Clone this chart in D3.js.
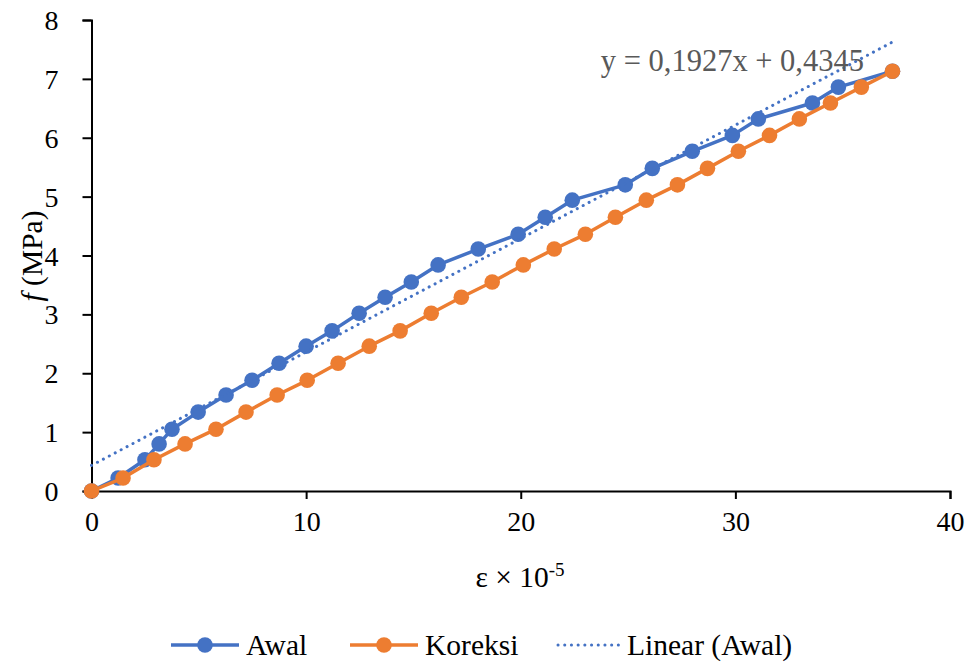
<!DOCTYPE html>
<html>
<head>
<meta charset="utf-8">
<script src="https://cdn.jsdelivr.net/npm/d3@7"></script>
<style>
  html, body { margin: 0; padding: 0; background: #fff; }
  svg { display: block; }
</style>
</head>
<body>
<svg id="chart" width="971" height="666" font-family="'Liberation Serif', 'Times New Roman', serif"></svg>
<script>
// Strain (×10^-5) and stress f (MPa)
const awalStrain = [0, 1.24, 2.49, 3.15, 3.75, 4.97, 6.27, 7.48, 8.74, 10.0, 11.21, 12.47, 13.68, 14.9,
  16.15, 18.02, 19.88, 21.14, 22.4, 24.87, 26.13, 27.99, 29.86, 31.07, 33.59, 34.8, 37.32];
const koreksiStrain = [0, 1.47, 2.91, 4.36, 5.80, 7.20, 8.65, 10.05, 11.49, 12.94, 14.38, 15.83, 17.23, 18.67,
  20.12, 21.56, 23.01, 24.41, 25.85, 27.30, 28.70, 30.14, 31.59, 32.98, 34.43, 35.87, 37.32];
const stress = [0, 0.22, 0.53, 0.80, 1.05, 1.34, 1.63, 1.88, 2.17, 2.46, 2.72, 3.02, 3.29, 3.55,
  3.84, 4.11, 4.36, 4.65, 4.94, 5.20, 5.48, 5.77, 6.04, 6.32, 6.59, 6.86, 7.13];

// Linear trendline fitted to "Awal"
const trendSlope = 0.1927;
const trendIntercept = 0.4345;

const xTicks = [0, 10, 20, 30, 40];
const yTicks = [0, 1, 2, 3, 4, 5, 6, 7, 8];

const seriesNames = ["Awal", "Koreksi", "Linear (Awal)"];
const BLUE = "#4472C4", ORANGE = "#ED7D31";
const SERIF = "'Liberation Serif', 'Times New Roman', serif";

const svg = d3.select("#chart");
const x = d3.scaleLinear().domain([0, 40]).range([91.5, 950]);
const y = d3.scaleLinear().domain([0, 8]).range([491, 20]);

const TICK_FS = 28, TEXT_FS = 29.5;

// Axes
const xAxis = svg.append("g").attr("transform", `translate(0,${y(0)})`)
  .call(d3.axisBottom(x).tickValues(xTicks).tickSize(8).tickPadding(12).tickFormat(d3.format("d")));
const yAxis = svg.append("g").attr("transform", `translate(${x(0)},0)`)
  .call(d3.axisLeft(y).tickValues(yTicks).tickSize(9).tickPadding(24).tickFormat(d3.format("d")));
[xAxis, yAxis].forEach(g => {
  g.attr("font-family", SERIF).attr("font-size", TICK_FS);
  g.select(".domain").attr("stroke", "#000").attr("stroke-width", 2);
  g.selectAll(".tick line").attr("stroke", "#000").attr("stroke-width", 2);
  g.selectAll(".tick text").attr("fill", "#000");
});
yAxis.selectAll(".tick text").attr("dy", "0.34em");

const line = d3.line().x(d => x(d[0])).y(d => y(d[1]));
const awal = awalStrain.map((v, i) => [v, stress[i]]);
const koreksi = koreksiStrain.map((v, i) => [v, stress[i]]);

// Awal series
svg.append("path").datum(awal).attr("d", line).attr("fill", "none")
  .attr("stroke", BLUE).attr("stroke-width", 3.5).attr("stroke-linejoin", "round");
svg.append("g").selectAll("circle").data(awal).join("circle")
  .attr("cx", d => x(d[0])).attr("cy", d => y(d[1])).attr("r", 7.8).attr("fill", BLUE);

// Trendline over the range of Awal
const xMax = d3.max(awalStrain);
const trend = [[0, trendIntercept], [xMax, trendSlope * xMax + trendIntercept]];
svg.append("path").datum(trend).attr("d", line).attr("fill", "none")
  .attr("stroke", BLUE).attr("stroke-width", 3).attr("stroke-linecap", "round")
  .attr("stroke-dasharray", "0.1,6.6");

// Koreksi series
svg.append("path").datum(koreksi).attr("d", line).attr("fill", "none")
  .attr("stroke", ORANGE).attr("stroke-width", 3.5).attr("stroke-linejoin", "round");
svg.append("g").selectAll("circle").data(koreksi).join("circle")
  .attr("cx", d => x(d[0])).attr("cy", d => y(d[1])).attr("r", 7.8).attr("fill", ORANGE);

// Trendline equation
const fmt = v => String(v).replace(".", ",");
svg.append("text").attr("x", 864).attr("y", 71).attr("text-anchor", "end")
  .attr("fill", "#595959").attr("font-size", 30.5)
  .text(`y = ${fmt(trendSlope)}x + ${fmt(trendIntercept)}`);

// Axis titles
const xt = svg.append("text").attr("x", 520).attr("y", 587).attr("text-anchor", "middle")
  .attr("fill", "#000").attr("font-size", TEXT_FS);
xt.append("tspan").text("ε × 10");
xt.append("tspan").attr("dy", -11).attr("font-size", 19).text("-5");

const yt = svg.append("text").attr("transform", `translate(42,256) rotate(-90)`)
  .attr("text-anchor", "middle").attr("fill", "#000").attr("font-size", TEXT_FS);
yt.append("tspan").attr("font-style", "italic").text("f");
yt.append("tspan").text(" (MPa)");

// Legend
const legendY = 645;
const lg = svg.append("g");
const items = [
  { name: seriesNames[0], color: BLUE, x0: 171, type: "marker" },
  { name: seriesNames[1], color: ORANGE, x0: 350, type: "marker" },
  { name: seriesNames[2], color: BLUE, x0: 558, type: "dot" }
];
items.forEach(it => {
  const len = it.type === "marker" ? 68 : 62;
  const l = lg.append("line").attr("x1", it.x0).attr("x2", it.x0 + len)
    .attr("y1", legendY).attr("y2", legendY).attr("stroke", it.color);
  if (it.type === "marker") {
    l.attr("stroke-width", 3.5);
    lg.append("circle").attr("cx", it.x0 + len / 2).attr("cy", legendY).attr("r", 7.8).attr("fill", it.color);
  } else {
    l.attr("stroke-width", 3).attr("stroke-linecap", "round").attr("stroke-dasharray", "0.1,6.6");
  }
  lg.append("text").attr("x", it.x0 + len + 7).attr("y", legendY + 10)
    .attr("fill", "#000").attr("font-size", TEXT_FS).text(it.name);
});
</script>
</body>
</html>
